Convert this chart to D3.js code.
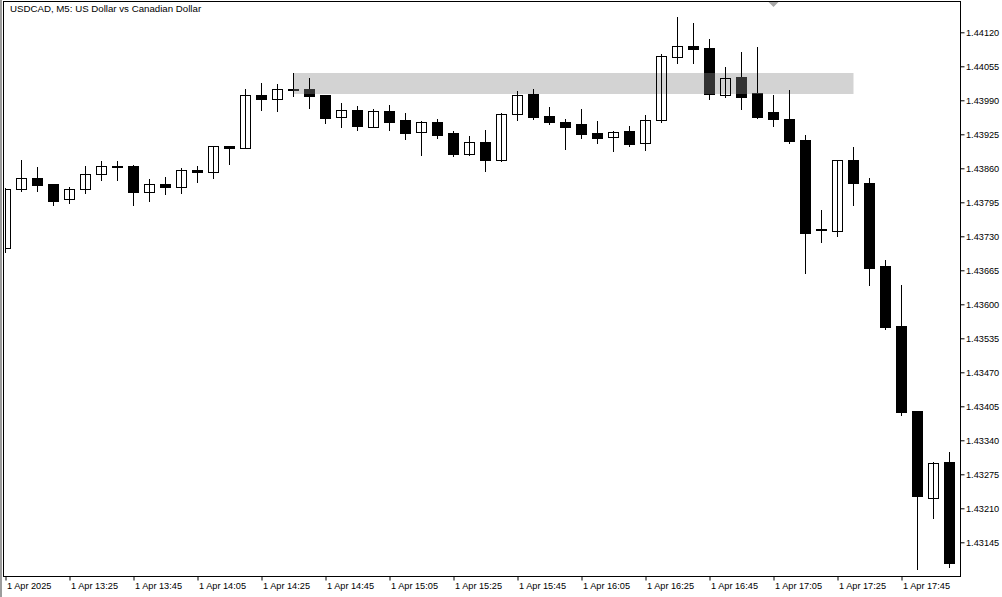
<!DOCTYPE html>
<html>
<head>
<meta charset="utf-8">
<script src="https://cdn.jsdelivr.net/npm/d3@7"></script>
<style>
  html, body { margin: 0; padding: 0; background: #fff; }
  svg text { font-family: "Liberation Sans", Arial, sans-serif; font-size: 9.7px; fill: #000; }
</style>
</head>
<body>
<div id="chart-area"></div>
<script>
// USDCAD M5 bars, 1 Apr 2025
const times = [
    "13:05","13:10","13:15","13:20","13:25","13:30","13:35","13:40","13:45","13:50","13:55","14:00",
    "14:05","14:10","14:15","14:20","14:25","14:30","14:35","14:40","14:45","14:50","14:55","15:00",
    "15:05","15:10","15:15","15:20","15:25","15:30","15:35","15:40","15:45","15:50","15:55","16:00",
    "16:05","16:10","16:15","16:20","16:25","16:30","16:35","16:40","16:45","16:50","16:55","17:00",
    "17:05","17:10","17:15","17:20","17:25","17:30","17:35","17:40","17:45","17:50","17:55","18:00"
];
const open = [
    1.43707,1.43820,1.43841,1.43830,1.43801,1.43820,1.43850,1.43864,1.43865,1.43815,
    1.43830,1.43824,1.43857,1.43852,1.43903,1.43899,1.44000,1.43992,1.44011,1.44011,
    1.44000,1.43958,1.43971,1.43938,1.43970,1.43952,1.43929,1.43949,1.43927,1.43888,
    1.43910,1.43875,1.43963,1.44002,1.43960,1.43949,1.43945,1.43927,1.43919,1.43931,
    1.43908,1.43952,1.44073,1.44093,1.44090,1.44001,1.44035,1.44004,1.43968,1.43954,
    1.43914,1.43744,1.43741,1.43876,1.43832,1.43673,1.43559,1.43396,1.43229,1.43298
];
const high = [
    1.43822,1.43876,1.43863,1.43830,1.43824,1.43864,1.43874,1.43874,1.43866,1.43840,
    1.43843,1.43861,1.43864,1.43903,1.43903,1.44012,1.44023,1.44021,1.44042,1.44033,
    1.44000,1.43984,1.43979,1.43973,1.43981,1.43966,1.43950,1.43954,1.43931,1.43922,
    1.43933,1.43966,1.44007,1.44012,1.43977,1.43954,1.43973,1.43950,1.43931,1.43941,
    1.43962,1.44079,1.44150,1.44138,1.44107,1.44054,1.44082,1.44092,1.44000,1.44010,
    1.43924,1.43780,1.43875,1.43901,1.43841,1.43685,1.43636,1.43396,1.43299,1.43318
];
const low = [
    1.43700,1.43817,1.43817,1.43790,1.43793,1.43813,1.43838,1.43838,1.43790,1.43798,
    1.43810,1.43812,1.43834,1.43842,1.43869,1.43899,1.43972,1.43970,1.43999,1.43976,
    1.43947,1.43938,1.43933,1.43938,1.43933,1.43916,1.43885,1.43918,1.43884,1.43886,
    1.43855,1.43874,1.43952,1.43954,1.43945,1.43897,1.43918,1.43908,1.43894,1.43903,
    1.43895,1.43949,1.44061,1.44062,1.43993,1.43997,1.43974,1.43956,1.43941,1.43909,
    1.43659,1.43720,1.43731,1.43790,1.43637,1.43553,1.43389,1.43093,1.43192,1.43098
];
const close = [
    1.43820,1.43841,1.43829,1.43798,1.43820,1.43850,1.43864,1.43862,1.43815,1.43830,
    1.43824,1.43857,1.43852,1.43903,1.43899,1.44000,1.43992,1.44011,1.44009,1.43999,
    1.43957,1.43971,1.43940,1.43970,1.43949,1.43928,1.43949,1.43924,1.43887,1.43910,
    1.43875,1.43964,1.44001,1.43959,1.43949,1.43938,1.43926,1.43918,1.43929,1.43907,
    1.43952,1.44075,1.44093,1.44089,1.44003,1.44032,1.43997,1.43959,1.43955,1.43913,
    1.43737,1.43742,1.43875,1.43831,1.43669,1.43557,1.43395,1.43234,1.43297,1.43106
];

// axis ticks
const priceTicks = [1.43145,1.43210,1.43275,1.43340,1.43405,1.43470,1.43535,1.43600,
    1.43665,1.43730,1.43795,1.43860,1.43925,1.43990,1.44055,1.44120];
const timeTicks = ["13:05","13:25","13:45","14:05","14:25","14:45","15:05","15:25",
    "15:45","16:05","16:25","16:45","17:05","17:25","17:45"];
const timeTickLabels = ["1 Apr 2025","1 Apr 13:25","1 Apr 13:45","1 Apr 14:05","1 Apr 14:25",
    "1 Apr 14:45","1 Apr 15:05","1 Apr 15:25","1 Apr 15:45","1 Apr 16:05","1 Apr 16:25",
    "1 Apr 16:45","1 Apr 17:05","1 Apr 17:25","1 Apr 17:45"];

// grey zone rectangle
const zoneTimes = ["14:35", "17:30"];
const zonePrices = [1.44002, 1.44042];
const shiftTime = "17:05";

const title = "USDCAD, M5:  US Dollar vs Canadian Dollar";

const W = 1002, H = 597;
const pLeft = 5, pRight = 960, pTop = 1, pBottom = 576;
const axisFont = "9.2px";

const bars = times.map((t, i) => ({t: t, o: open[i], h: high[i], l: low[i], c: close[i]}));

const svg = d3.select("#chart-area")
    .append("svg")
        .attr("width", W)
        .attr("height", H);

const x = d3.scalePoint()
    .domain(times)
    .range([5.5, 949.5]);

const y = d3.scaleLinear()
    .domain([1.43145, 1.44120])
    .range([542.3, 32.3]);

const py = (v) => Math.round(y(v)) + 0.5;

const zoneX = x(zoneTimes[0]);
const zoneW = x(zoneTimes[1]) - x(zoneTimes[0]);
const zoneY = Math.round(y(zonePrices[1]));
const zoneH = Math.round(y(zonePrices[0])) - zoneY;

svg.append("clipPath").attr("id", "plotClip")
    .append("rect")
        .attr("x", pLeft).attr("y", pTop)
        .attr("width", pRight - pLeft).attr("height", pBottom - pTop);

svg.append("clipPath").attr("id", "zoneClip")
    .append("rect")
        .attr("x", zoneX).attr("y", zoneY)
        .attr("width", zoneW).attr("height", zoneH);

const plot = svg.append("g").attr("clip-path", "url(#plotClip)");

// zone behind the candles
plot.append("rect")
    .attr("x", zoneX).attr("y", zoneY)
    .attr("width", zoneW).attr("height", zoneH)
    .attr("fill", "#d3d3d3");

// wicks
plot.selectAll(".wick")
    .data(bars)
    .enter()
    .append("line")
        .attr("class", "wick")
        .attr("x1", (d) => x(d.t))
        .attr("x2", (d) => x(d.t))
        .attr("y1", (d) => Math.round(y(d.h)))
        .attr("y2", (d) => Math.round(y(d.l)) + 1)
        .attr("stroke", "#000")
        .attr("stroke-width", 1);

function bodies(g, cls, data, color) {
    g.selectAll("." + cls)
        .data(data)
        .enter()
        .append("rect")
            .attr("class", cls)
            .attr("x", (d) => x(d.t) - 5)
            .attr("width", 10)
            .attr("y", (d) => py(Math.max(d.o, d.c)))
            .attr("height", (d) => Math.max(1, py(Math.min(d.o, d.c)) - py(Math.max(d.o, d.c))))
            .attr("fill", (d) => {
                if (d.c > d.o) {
                    return "none";
                } else {
                    return color;
                }
            })
            .attr("stroke", (d) => d.c > d.o ? "#000" : color)
            .attr("stroke-width", 1);
}

bodies(plot, "body", bars, "#000");

// bear bodies look dark grey where they sit inside the zone
const zoneG = plot.append("g").attr("clip-path", "url(#zoneClip)");
bodies(zoneG, "zbody", bars.filter((d) => d.c <= d.o), "#333");

// frame
svg.append("rect").attr("x", 0).attr("y", 0).attr("width", 2).attr("height", H).attr("fill", "#9c9c9c");
svg.append("line").attr("x1", 3.5).attr("x2", 3.5).attr("y1", pTop).attr("y2", pBottom + 1)
    .attr("stroke", "#000");
svg.append("line").attr("x1", 3).attr("x2", pRight + 1).attr("y1", pTop + 0.5).attr("y2", pTop + 0.5)
    .attr("stroke", "#000");
svg.append("line").attr("x1", 3).attr("x2", pRight + 1).attr("y1", pBottom + 0.5).attr("y2", pBottom + 0.5)
    .attr("stroke", "#000");
svg.append("line").attr("x1", pRight + 0.5).attr("x2", pRight + 0.5).attr("y1", pTop).attr("y2", pBottom + 1)
    .attr("stroke", "#000");

// shift marker
const sx = x(shiftTime);
svg.append("path")
    .attr("d", `M${sx - 5},${pTop + 1}L${sx + 5},${pTop + 1}L${sx},${pTop + 6}Z`)
    .attr("fill", "#a8a8a8");

// price axis
const yAxis = svg.append("g")
    .attr("transform", `translate(${pRight + 0.5},0)`)
    .call(d3.axisRight(y).tickValues(priceTicks).tickFormat(d3.format(".5f")).tickSize(4).tickPadding(1.5));
yAxis.select(".domain").remove();
yAxis.selectAll(".tick line").attr("stroke", "#000");
yAxis.selectAll("text").style("font-family", "'Liberation Sans', Arial, sans-serif").style("font-size", axisFont);

// time axis
const xAxis = svg.append("g")
    .attr("transform", `translate(0,${pBottom + 0.5})`)
    .call(d3.axisBottom(x).tickValues(timeTicks).tickFormat((d, i) => timeTickLabels[i]).tickSize(4));
xAxis.select(".domain").remove();
xAxis.selectAll(".tick line").attr("stroke", "#000");
xAxis.selectAll("text")
    .attr("text-anchor", "start")
    .attr("x", 1)
    .attr("dy", null)
    .attr("y", 12.5)
    .style("font-family", "'Liberation Sans', Arial, sans-serif").style("font-size", axisFont);

// title
svg.append("text")
    .attr("x", 10)
    .attr("y", 12)
    .text(title);
</script>
</body>
</html>
